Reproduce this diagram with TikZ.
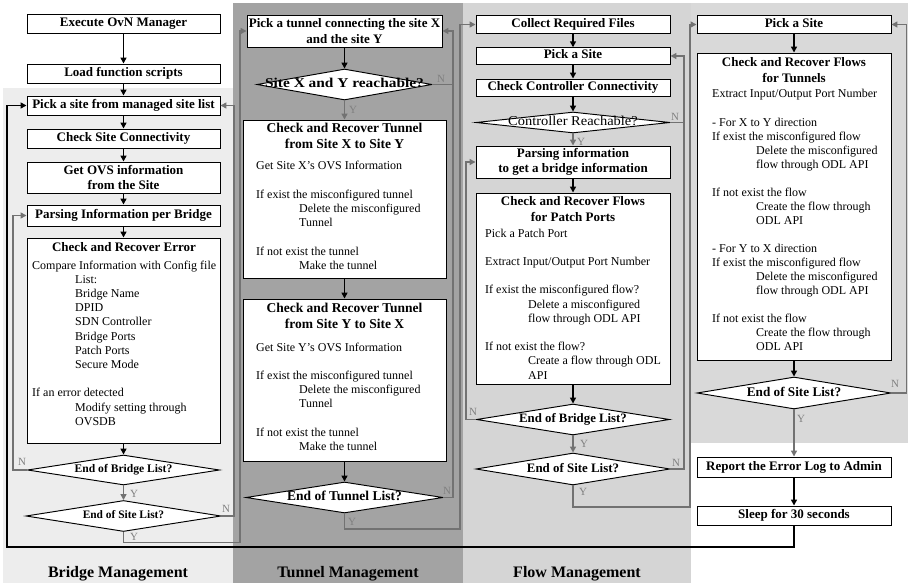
\documentclass[tikz,border=0pt]{standalone}
\usepackage{fontspec}
\setmainfont{Liberation Serif}
\usetikzlibrary{shapes.geometric,arrows.meta}
\definecolor{pbridge}{HTML}{EDEDED}
\definecolor{ptunnel}{HTML}{A3A3A3}
\definecolor{pflow}{HTML}{D5D5D5}
\definecolor{pfour}{HTML}{D9D9D9}
\definecolor{arrgray}{HTML}{727272}
\definecolor{lblgray}{HTML}{808080}
\begin{document}
\begin{tikzpicture}[x=1pt,y=-1pt,
 bx/.style={draw=black, line width=0.95pt, fill=white, inner sep=0pt, align=center, font=\bfseries\fontsize{13}{15.5}\selectfont},
 one/.style={bx, text height=8.5pt, text depth=2.5pt},
 dia/.style={diamond, draw=black, line width=0.95pt, fill=white, inner sep=0pt},
 dt/.style={font=\bfseries\fontsize{#1}{#1}\selectfont, inner sep=0pt, text height=0.7*#1pt, text depth=0.2*#1pt},
 body/.style={anchor=base west, inner sep=0pt, font=\fontsize{12}{14}\selectfont},
 ttl/.style={anchor=base, inner sep=0pt, font=\bfseries\fontsize{#1}{15}\selectfont},
 ar/.style={draw=black, line width=1.5pt, -{Triangle[length=6pt,width=6pt]}},
 gar/.style={draw=arrgray, line width=1.4pt, -{Triangle[length=6pt,width=6pt]}},
 gln/.style={draw=arrgray, line width=1.4pt},
 yn/.style={text=lblgray, font=\fontsize{11}{12}\selectfont, inner sep=0pt},
 sec/.style={font=\bfseries\fontsize{16}{18}\selectfont, anchor=base, inner sep=0pt}
]
\useasboundingbox (0,0) rectangle (908,583);
\fill[white] (0,0) rectangle (908,583);
\fill[pbridge] (3,88) rectangle (233,583);
\fill[ptunnel] (233,3) rectangle (463,583);
\fill[pflow] (463,3) rectangle (691,583);
\fill[pfour] (691,3) rectangle (908,443);

% ---------- Bridge column ----------
\node[one, minimum width=193pt, minimum height=19pt] (exe) at (123.5,23.5) {Execute OvN Manager};
\node[one, minimum width=193pt, minimum height=19pt] (load) at (123.5,73.5) {Load function scripts};
\node[one, minimum width=193pt, minimum height=19pt] (pick) at (123.5,105.5) {Pick a site from managed site list};
\node[one, minimum width=193pt, minimum height=19pt] (chk) at (123.5,138.5) {Check Site Connectivity};
\node[bx, minimum width=193pt, minimum height=31pt] (ovs) at (123.5,177.5) {Get OVS information\\from the Site};
\node[one, minimum width=193pt, minimum height=21pt] (parse) at (123.5,215.5) {Parsing Information per Bridge};
\node[bx, minimum width=193pt, minimum height=205pt] (cre) at (123.5,340.5) {};
\node[dia, minimum width=192pt, minimum height=30pt] (eb1) at (123.5,470) {};
\node[dia, minimum width=195pt, minimum height=31pt] (es1) at (123.5,516) {};
\node[dt=11.6] (eb1t) at (eb1) {End of Bridge List?};
\node[dt=11.4] (es1t) at (es1) {End of Site List?};

\node[ttl=13] (creT) at (124,251.5) {Check and Recover Error};
\node[body] (c1) at (32,269) {Compare Information with Config file};
\node[body] (c2) at (75,283.2) {List:};
\node[body] (c3) at (75,297.4) {Bridge Name};
\node[body] (c4) at (75,311.6) {DPID};
\node[body] (c5) at (75,325.8) {SDN Controller};
\node[body] (c6) at (75,340) {Bridge Ports};
\node[body] (c7) at (75,354.2) {Patch Ports};
\node[body] (c8) at (75,368.4) {Secure Mode};
\node[body] (c9) at (32,396.8) {If an error detected};
\node[body] (c10) at (75,411) {Modify setting through};
\node[body] (c11) at (75,425.2) {OVSDB};

% ---------- Tunnel column ----------
\node[bx, minimum width=195pt, minimum height=32pt] (pt) at (344.5,31) {Pick a tunnel connecting the site X\\and the site Y};
\node[dia, minimum width=175pt, minimum height=31pt] (rch) at (344.5,84.5) {};
\node[dt=13.5, xscale=1.14] (rcht) at (rch) {Site X and Y reachable?};
\node[bx, minimum width=203pt, minimum height=158pt] (t1) at (344.5,199) {};
\node[bx, minimum width=203pt, minimum height=162pt] (t2) at (344.5,380) {};
\node[dia, minimum width=197pt, minimum height=31pt] (etl) at (344.5,497.5) {};
\node[dt=13.5] (etlt) at (etl) {End of Tunnel List?};

\node[ttl=13.5] (t1a) at (344.5,132.5) {Check and Recover Tunnel};
\node[ttl=13.5] (t1b) at (344.5,148.5) {from Site X to Site Y};
\node[body] (a1) at (256,170) {Get Site X’s OVS Information};
\node[body] (a2) at (256,198.4) {If exist the misconfigured tunnel};
\node[body] (a3) at (299,212.6) {Delete the misconfigured};
\node[body] (a4) at (299,226.8) {Tunnel};
\node[body] (a5) at (256,255.2) {If not exist the tunnel};
\node[body] (a6) at (299,269.4) {Make the tunnel};

\node[ttl=13.5] (t2a) at (344.5,312.5) {Check and Recover Tunnel};
\node[ttl=13.5] (t2b) at (344.5,328.5) {from Site Y to Site X};
\node[body] (b1) at (256,351) {Get Site Y’s OVS Information};
\node[body] (b2) at (256,379.4) {If exist the misconfigured tunnel};
\node[body] (b3) at (299,393.6) {Delete the misconfigured};
\node[body] (b4) at (299,407.8) {Tunnel};
\node[body] (b5) at (256,436.2) {If not exist the tunnel};
\node[body] (b6) at (299,450.4) {Make the tunnel};

% ---------- Flow column ----------
\node[one, minimum width=194pt, minimum height=17.5pt] (crf) at (573,24.5) {Collect Required Files};
\node[one, minimum width=194pt, minimum height=16.5pt] (ps) at (573,56) {Pick a Site};
\node[one, minimum width=194pt, minimum height=17pt] (ccc) at (573,87.5) {Check Controller Connectivity};
\node[dia, minimum width=194pt, minimum height=21pt] (crd) at (573,122.5) {};
\node[inner sep=0pt, font=\fontsize{13.5}{14}\selectfont, text height=9pt, text depth=2.5pt, xscale=1.07] (crdt) at (crd) {Controller Reachable?};
\node[bx, minimum width=194pt, minimum height=32pt] (pbi) at (573,162) {Parsing information\\to get a bridge information};
\node[bx, minimum width=194pt, minimum height=191pt] (crp) at (573,288.5) {};
\node[dia, minimum width=193pt, minimum height=31pt] (eb3) at (573,419.5) {};
\node[dia, minimum width=194pt, minimum height=32pt] (es3) at (573,469) {};
\node[dt=12.8] (eb3t) at (eb3) {End of Bridge List?};
\node[dt=12.9] (es3t) at (es3) {End of Site List?};

\node[ttl=13] (crpa) at (573,205.5) {Check and Recover Flows};
\node[ttl=13] (crpb) at (573,221.5) {for Patch Ports};
\node[body] (d1) at (485,237) {Pick a Patch Port};
\node[body] (d2) at (485,265.4) {Extract Input/Output Port Number};
\node[body] (d3) at (485,293.8) {If exist the misconfigured flow?};
\node[body] (d4) at (528,308) {Delete a misconfigured};
\node[body] (d5) at (528,322.2) {flow through ODL API};
\node[body] (d6) at (485,350.6) {If not exist the flow?};
\node[body] (d7) at (528,364.8) {Create a flow through ODL};
\node[body] (d8) at (528,379) {API};

% ---------- Fourth column ----------
\node[one, minimum width=194pt, minimum height=17.5pt] (ps4) at (794,24.5) {Pick a Site};
\node[bx, minimum width=194pt, minimum height=307pt] (crt) at (794,206.5) {};
\node[dia, minimum width=194pt, minimum height=32pt] (es4) at (794,393) {};
\node[dt=13.2] (es4t) at (es4) {End of Site List?};
\node[one, minimum width=194pt, minimum height=20pt] (rep) at (794,467) {Report the Error Log to Admin};
\node[one, minimum width=194pt, minimum height=19pt] (slp) at (794,515.5) {Sleep for 30 seconds};

\node[ttl=13] (crta) at (794,66.5) {Check and Recover Flows};
\node[ttl=13] (crtb) at (794,82.5) {for Tunnels};
\node[body] (e1) at (712,98) {Extract Input/Output Port Number};
\node[body] (e2) at (712,126.1) {- For X to Y direction};
\node[body] (e3) at (712,140.15) {If exist the misconfigured flow};
\node[body] (e4) at (756,154.2) {Delete the misconfigured};
\node[body] (e5) at (756,168.25) {flow through ODL API};
\node[body] (e6) at (712,196.35) {If not exist the flow};
\node[body] (e7) at (756,210.4) {Create the flow through};
\node[body] (e8) at (756,224.45) {ODL API};
\node[body] (e9) at (712,252.55) {- For Y to X direction};
\node[body] (e10) at (712,266.6) {If exist the misconfigured flow};
\node[body] (e11) at (756,280.65) {Delete the misconfigured};
\node[body] (e12) at (756,294.7) {flow through ODL API};
\node[body] (e13) at (712,322.8) {If not exist the flow};
\node[body] (e14) at (756,336.85) {Create the flow through};
\node[body] (e15) at (756,350.9) {ODL API};

% ---------- Section labels ----------
\node[sec] (sec1) at (118,577.5) {Bridge Management};
\node[sec] (sec2) at (348,577.5) {Tunnel Management};
\node[sec] (sec3) at (577,577.5) {Flow Management};

% ---------- Connectors: bridge ----------
\draw[ar] (exe) -- (load);
\draw[ar] (load) -- (pick);
\draw[ar] (pick) -- (chk);
\draw[ar] (chk) -- (ovs);
\draw[ar] (ovs) -- (parse);
\draw[ar] (parse) -- (cre);
\draw[ar] (cre) -- (eb1);
\draw[gar] (eb1) -- (es1);
\draw[gar] (eb1.west) -- ++(-14,0) |- (parse.west);
\draw[gar] (es1.east) -- ++(12.5,0) |- (pick.east);
\coordinate (by) at (240,542.5);
\draw[gar] (es1.south) |- (by) |- (pt.west);
\coordinate (lp) at (7,547);
\draw[ar] (slp.south) |- (lp) |- (pick.west);

% ---------- Connectors: tunnel ----------
\draw[ar] (pt) -- (rch);
\coordinate (tj) at (453,84.5);
\draw[gar] (rch.east) -- (tj) |- (pt.east);
\draw[gln] (etl.east) -| (tj);
\draw[gar] (rch) -- (t1);
\draw[ar] (t1) -- (t2);
\draw[ar] (t2) -- (etl);
\coordinate (ty) at (460,529);
\draw[gar] (etl.south) |- (ty) |- (crf.west);

% ---------- Connectors: flow ----------
\draw[ar] (crf) -- (ps);
\draw[ar] (ps) -- (ccc);
\draw[ar] (ccc) -- (crd);
\coordinate (fj) at (684,122.5);
\draw[gar] (crd.east) -- (fj) |- (ps.east);
\draw[gln] (es3.east) -| (fj);
\draw[gar] (crd) -- (pbi);
\draw[ar] (pbi) -- (crp);
\draw[ar] (crp) -- (eb3);
\draw[gar] (eb3) -- (es3);
\draw[gar] (eb3.west) -- ++(-10,0) |- (pbi.west);
\coordinate (fy) at (690,507);
\draw[gar] (es3.south) |- (fy) |- (ps4.west);

% ---------- Connectors: fourth ----------
\draw[ar] (ps4) -- (crt);
\draw[ar] (crt) -- (es4);
\draw[gar] (es4.east) -- ++(15,0) |- (ps4.east);
\draw[gar] (es4) -- (rep);
\draw[ar] (rep) -- (slp);

% ---------- Y/N labels ----------
\node[yn] (n1) at (22,462) {N};
\node[yn] (y1) at (134,494) {Y};
\node[yn] (n2) at (226,509) {N};
\node[yn] (y2) at (134,537) {Y};
\node[yn] (n3) at (441,79) {N};
\node[yn] (y3) at (353,110) {Y};
\node[yn] (n4) at (447,491) {N};
\node[yn] (y4) at (352,522) {Y};
\node[yn] (n5) at (675,117) {N};
\node[yn] (y5) at (581,142) {Y};
\node[yn] (n6) at (473,412) {N};
\node[yn] (y6) at (584,444) {Y};
\node[yn] (n7) at (676,463) {N};
\node[yn] (y7) at (583,492) {Y};
\node[yn] (n8) at (895,384) {N};
\node[yn] (y8) at (801,419) {Y};
\end{tikzpicture}
\end{document}
